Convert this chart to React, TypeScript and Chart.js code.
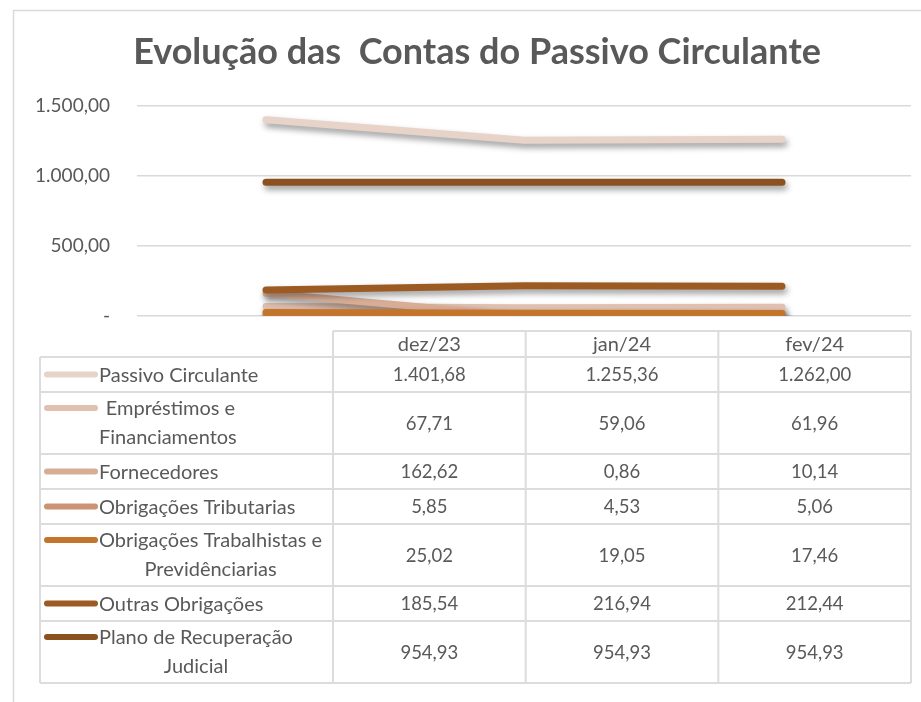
import React, { useEffect, useRef } from "react";
import { Chart, registerables } from "chart.js";

Chart.register(...registerables);

const categories = ["dez/23", "jan/24", "fev/24"];
const seriesNames = [
  "Passivo Circulante",
  " Empréstimos e|Financiamentos",
  "Fornecedores",
  "Obrigações Tributarias",
  "Obrigações Trabalhistas e|Previdênciarias",
  "Outras Obrigações",
  "Plano de Recuperação|Judicial",
];
const passivoCirculante = [1401.68, 1255.36, 1262.0];
const emprestimos = [67.71, 59.06, 61.96];
const fornecedores = [162.62, 0.86, 10.14];
const obrigTributarias = [5.85, 4.53, 5.06];
const obrigTrabalhistas = [25.02, 19.05, 17.46];
const outrasObrigacoes = [185.54, 216.94, 212.44];
const planoRecuperacao = [954.93, 954.93, 954.93];
const seriesValues = [
  passivoCirculante,
  emprestimos,
  fornecedores,
  obrigTributarias,
  obrigTrabalhistas,
  outrasObrigacoes,
  planoRecuperacao,
];
const seriesColors = ["#E8D3C9", "#E0C0B0", "#D8AD96", "#CD9372", "#C2752B", "#9C5B22", "#8B511F"];
const yTicks = [0, 500, 1000, 1500];
const title = "Evolução das  Contas do Passivo Circulante";

const FONT = "Lato, 'Open Sans', sans-serif";
const TEXT = "#595959";
const GRID = "#D9D9D9";

function fmt(v: number): string {
  const neg = v < 0;
  const fixed = Math.abs(v).toFixed(2);
  const [ip, dp] = fixed.split(".");
  const withDots = ip.replace(/\B(?=(\d{3})+(?!\d))/g, ".");
  return (neg ? "-" : "") + withDots + "," + dp;
}

// table layout (positions only)
const TABLE_LEFT = 40;
const TABLE_COL0_RIGHT = 333;
const TABLE_RIGHT = 911;
const TABLE_TOP = 331;
const HEADER_H = 26;
const ROW_H1 = 35;
const ROW_H2 = 62;

const framePlugin = {
  id: "frame",
  beforeDraw(chart: any) {
    const ctx = chart.ctx;
    ctx.save();
    ctx.fillStyle = "#FFFFFF";
    ctx.fillRect(0, 0, chart.width, chart.height);
    ctx.strokeStyle = GRID;
    ctx.lineWidth = 1.5;
    ctx.beginPath();
    ctx.moveTo(13.5, chart.height + 5);
    ctx.lineTo(13.5, 10.5);
    ctx.lineTo(chart.width + 5, 10.5);
    ctx.stroke();
    ctx.restore();
  },
};

const shadowPlugin = {
  id: "lineShadow",
  beforeDatasetsDraw(chart: any) {
    const ctx = chart.ctx;
    ctx.save();
    ctx.shadowColor = "rgba(0,0,0,0.4)";
    ctx.shadowBlur = 6;
    ctx.shadowOffsetX = 2;
    ctx.shadowOffsetY = 4;
  },
  afterDatasetsDraw(chart: any) {
    chart.ctx.restore();
  },
};

const tablePlugin = {
  id: "dataTable",
  afterDraw(chart: any) {
    const ctx = chart.ctx;
    ctx.save();
    const colW = (TABLE_RIGHT - TABLE_COL0_RIGHT) / categories.length;
    const rowHeights = seriesNames.map((n) => (n.includes("|") ? ROW_H2 : ROW_H1));
    const bodyTop = TABLE_TOP + HEADER_H;
    const bottom = bodyTop + rowHeights.reduce((a, b) => a + b, 0);

    ctx.strokeStyle = "#DCDCDC";
    ctx.lineWidth = 2;
    ctx.beginPath();
    ctx.moveTo(TABLE_COL0_RIGHT, TABLE_TOP);
    ctx.lineTo(TABLE_RIGHT, TABLE_TOP);
    let y = bodyTop;
    ctx.moveTo(TABLE_LEFT, y);
    ctx.lineTo(TABLE_RIGHT, y);
    rowHeights.forEach((h) => {
      y += h;
      ctx.moveTo(TABLE_LEFT, y);
      ctx.lineTo(TABLE_RIGHT, y);
    });
    ctx.moveTo(TABLE_LEFT, bodyTop);
    ctx.lineTo(TABLE_LEFT, bottom);
    for (let c = 0; c <= categories.length; c++) {
      const x = TABLE_COL0_RIGHT + c * colW;
      ctx.moveTo(x, TABLE_TOP);
      ctx.lineTo(x, bottom);
    }
    ctx.stroke();

    const valueFont = "18.5px " + FONT;
    const labelFont = "20px " + FONT;
    ctx.fillStyle = TEXT;
    ctx.textBaseline = "middle";
    ctx.textAlign = "center";
    ctx.font = labelFont;
    categories.forEach((c, i) => {
      ctx.fillText(c, TABLE_COL0_RIGHT + colW * (i + 0.5), TABLE_TOP + HEADER_H / 2 + 1);
    });

    let top = bodyTop;
    seriesNames.forEach((name, si) => {
      const h = rowHeights[si];
      const lines = name.split("|");
      const cy = top + h / 2;
      const firstY = lines.length > 1 ? top + 16 : cy;
      ctx.save();
      ctx.strokeStyle = seriesColors[si];
      ctx.lineWidth = 6;
      ctx.lineCap = "round";
      ctx.beginPath();
      ctx.moveTo(47, firstY);
      ctx.lineTo(95, firstY);
      ctx.stroke();
      ctx.restore();
      ctx.font = labelFont;
      const blockW = Math.max(...lines.map((l) => ctx.measureText(l).width));
      const blockCenter = 99 + blockW / 2;
      ctx.textAlign = "center";
      lines.forEach((l, li) => {
        ctx.fillText(l, blockCenter, firstY + li * 29 + 1);
      });
      ctx.font = valueFont;
      seriesValues[si].forEach((v, ci) => {
        ctx.fillText(fmt(v), TABLE_COL0_RIGHT + colW * (ci + 0.5), cy + 1);
      });
      top += h;
    });
    ctx.restore();
  },
};

export default function App() {
  const canvasRef = useRef<HTMLCanvasElement | null>(null);

  useEffect(() => {
    const canvas = canvasRef.current;
    if (!canvas) return;
    const chart = new Chart(canvas, {
      type: "line",
      data: {
        labels: categories,
        datasets: seriesValues.map((vals, i) => ({
          label: seriesNames[i].replace("|", " "),
          data: vals,
          borderColor: seriesColors[i],
          backgroundColor: seriesColors[i],
          borderWidth: 7,
          borderCapStyle: "round",
          borderJoinStyle: "round",
          pointRadius: 0,
          pointHoverRadius: 0,
          tension: 0,
          fill: false,
          clip: 0,
          order: seriesValues.length - i,
        })),
      },
      options: {
        responsive: false,
        animation: false,
        layout: { padding: { left: 13, right: -20, top: 0, bottom: 386 } },
        plugins: {
          legend: { display: false },
          tooltip: { enabled: false },
          title: {
            display: true,
            text: title,
            color: TEXT,
            font: { family: FONT, size: 36, weight: "bold" },
            padding: { top: 31, bottom: 31.8 },
          },
        },
        scales: {
          x: {
            type: "category",
            display: false,
            offset: true,
          },
          y: {
            min: 0,
            max: 1500,
            afterFit(scale: any) {
              scale.width = 124;
            },
            afterBuildTicks(scale: any) {
              scale.ticks = yTicks.map((v) => ({ value: v }));
            },
            border: { display: false },
            grid: { color: GRID, lineWidth: 1.5, drawTicks: false },
            ticks: {
              color: TEXT,
              font: { family: FONT, size: 19 },
              padding: 27,
              callback: (v: any) => (Number(v) === 0 ? "-" : fmt(Number(v))),
            },
          },
          yRight: {
            position: "right",
            display: true,
            min: 0,
            max: 1500,
            afterFit(scale: any) {
              scale.width = 30;
            },
            border: { display: false },
            grid: { display: false, drawTicks: false },
            ticks: { display: false },
          },
        },
      },
      plugins: [framePlugin, shadowPlugin, tablePlugin],
    });
    return () => chart.destroy();
  }, []);

  return (
    <div style={{ position: "fixed", left: 0, top: 0, width: 921, height: 702 }}>
      <canvas ref={canvasRef} width={921} height={702} style={{ width: 921, height: 702 }} />
    </div>
  );
}
